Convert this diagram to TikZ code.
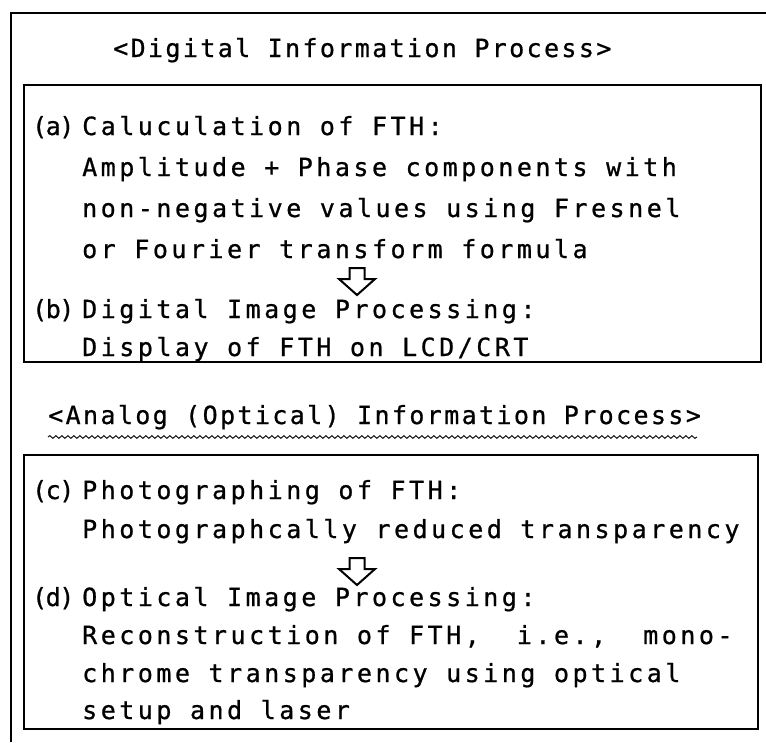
\documentclass[tikz,border=0pt]{standalone}
\usepackage{fontspec}
\newfontfamily\titlefont[LetterSpace=9.5, FakeBold=0.8]{DejaVu Sans Mono}
\newfontfamily\bodyfont[LetterSpace=14, FakeBold=0.8]{DejaVu Sans Mono}
\newfontfamily\labelfont[LetterSpace=-6, FakeBold=0.8]{DejaVu Sans Mono}
\usetikzlibrary{decorations.pathmorphing}

\tikzset{
  frameline/.style={line width=1.3pt, black},
  ttl/.style={font=\titlefont\fontsize{25}{30}\selectfont, anchor=base west, inner sep=0pt},
  txt/.style={font=\bodyfont\fontsize{25}{30}\selectfont, anchor=base west, inner sep=0pt},
  lbl/.style={font=\labelfont\fontsize{25}{30}\selectfont, anchor=base west, inner sep=0pt},
  hollow/.style={line width=2pt, line join=miter},
  wavy/.style={line width=0.9pt, decorate, decoration={snake, amplitude=1.4pt, segment length=6pt}},
  hollowdown/.pic={
    \draw[hollow] (-7.5,0) -- (7.5,0) -- (7.5,11) -- (18,11) -- (0,27) -- (-18,11) -- (-7.5,11) -- cycle;
  }
}

\begin{document}
\begin{tikzpicture}[x=1pt, y=-1pt]
  \useasboundingbox (0,0) rectangle (766,742);

  % outer frame (open to the right and bottom)
  \draw[frameline] (11,742) -- (11,13) -- (766,13);

  % digital section
  \node[ttl] (digtitle) at (113,57) {<Digital Information Process>};
  \draw[frameline] (24,85) rectangle (761,362);
  \node[lbl] (la) at (32,135) {(a)};
  \node[txt] (a1) at (82,135) {Caluculation of FTH:};
  \node[txt] (a2) at (82,176) {Amplitude + Phase components with};
  \node[txt] (a3) at (82,217) {non-negative values using Fresnel};
  \node[txt] (a4) at (82,258) {or Fourier transform formula};
  \pic at (357,268) {hollowdown};
  \node[lbl] (lb) at (32,318) {(b)};
  \node[txt] (b1) at (82,318) {Digital Image Processing:};
  \node[txt] (b2) at (82,356) {Display of FTH on LCD/CRT};

  % analog section
  \node[ttl] (anatitle) at (48,424) {<Analog (Optical) Information Process>};
  \draw[wavy] (48,437) -- (697,437);
  \draw[frameline] (24,455) rectangle (758,729);
  \node[lbl] (lc) at (32,499) {(c)};
  \node[txt] (c1) at (82,499) {Photographing of FTH:};
  \node[txt] (c2) at (82,538) {Photographcally reduced transparency};
  \pic at (357,558) {hollowdown};
  \node[lbl] (ld) at (32,606) {(d)};
  \node[txt] (d1) at (82,606) {Optical Image Processing:};
  \node[txt] (d2) at (82,644) {Reconstruction of FTH,\ \ i.e.,\ \ mono-};
  \node[txt] (d3) at (82,682) {chrome transparency using optical};
  \node[txt] (d4) at (82,719) {setup and laser};
\end{tikzpicture}
\end{document}
